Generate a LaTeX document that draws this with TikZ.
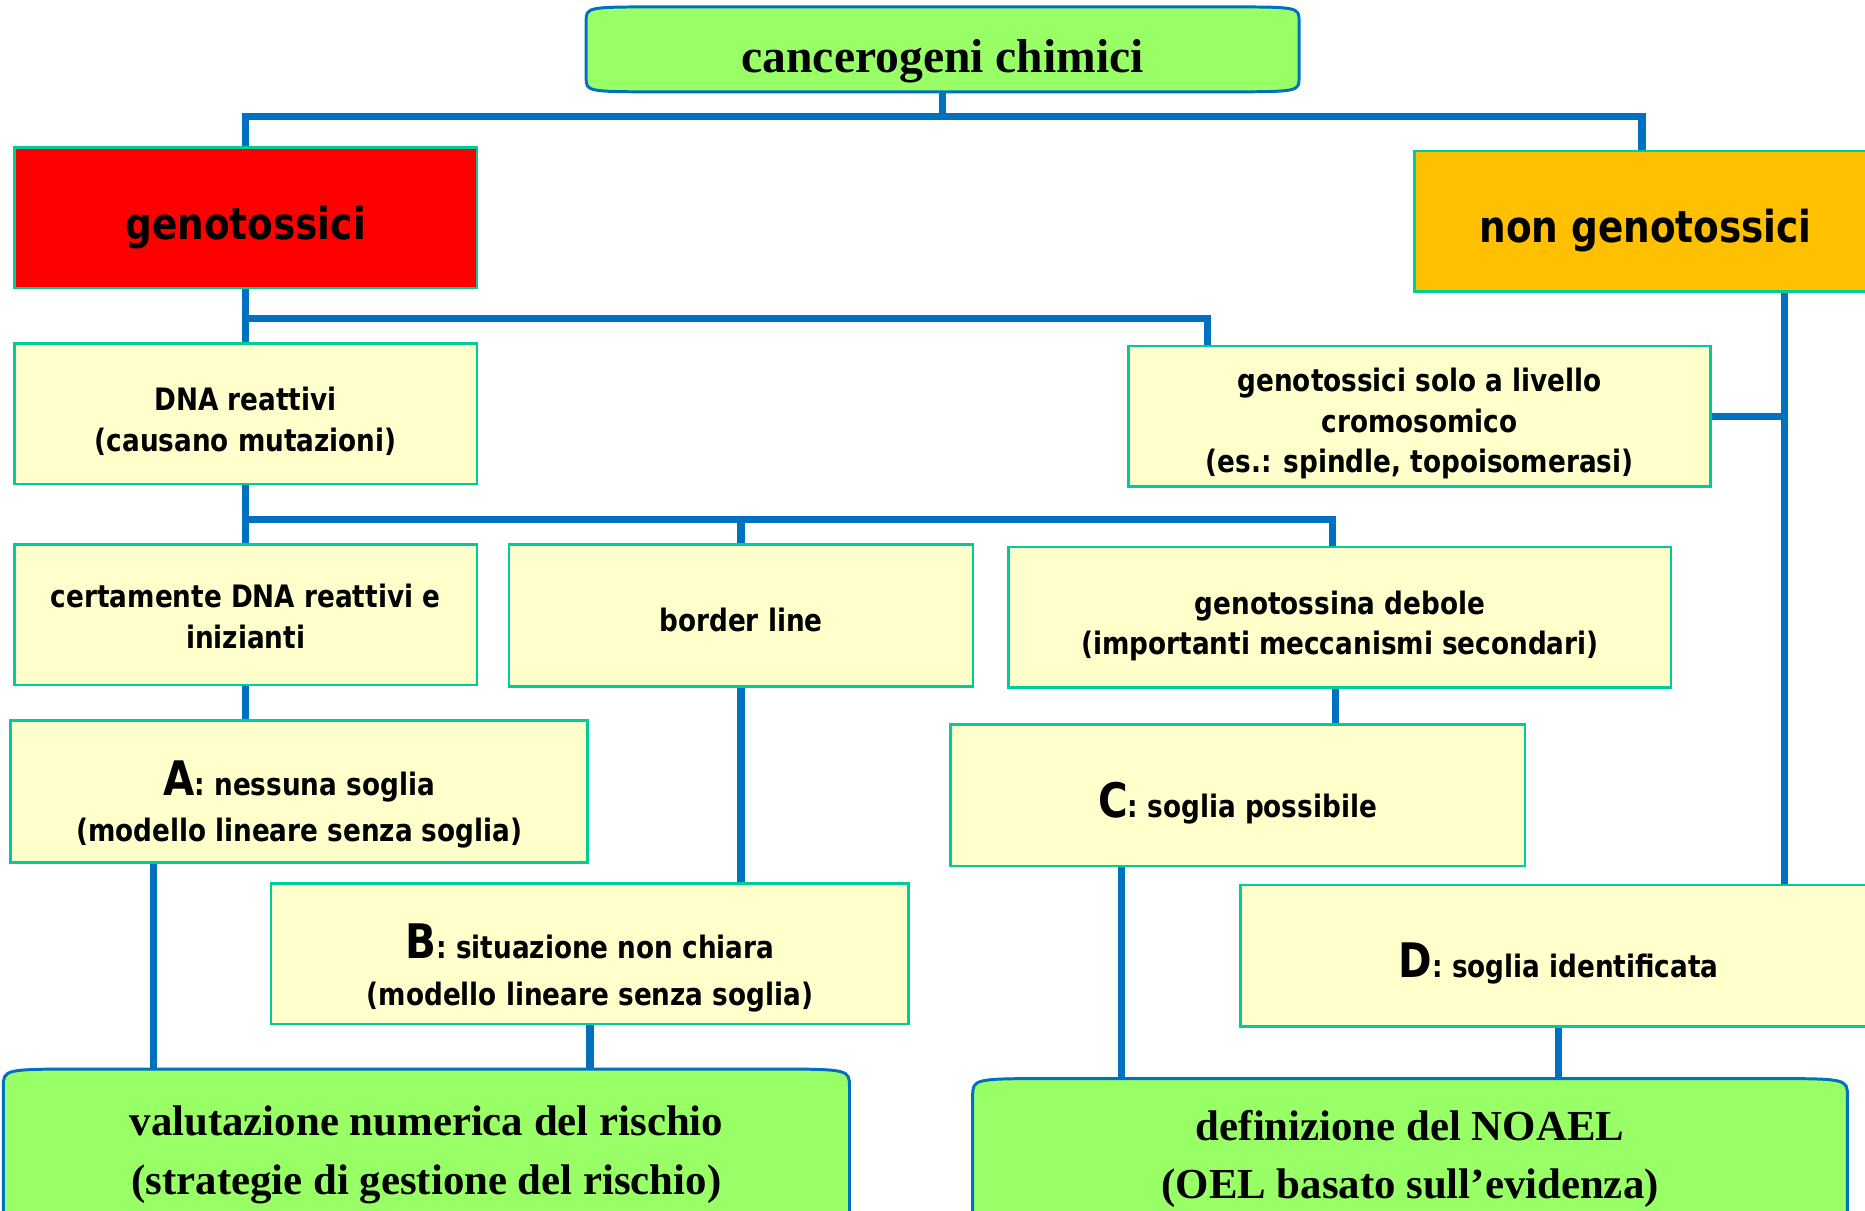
\documentclass[tikz,border=0pt]{standalone}
\usepackage{fontspec}
\setmainfont{Liberation Serif}
\newfontfamily\boxfont{DejaVu Sans}[FakeStretch=0.85]
\usetikzlibrary{calc,backgrounds}
\definecolor{linkblue}{HTML}{0070C0}
\definecolor{boxteal}{HTML}{00CC99}
\definecolor{paleyellow}{HTML}{FFFFCC}
\definecolor{headorange}{HTML}{FFC000}
\definecolor{lightgreen}{HTML}{99FF66}
\tikzset{
  link/.style={draw=linkblue, line width=6pt},
  textdrop/.store in=\textdropheight, textdrop=0pt,
  plainbox/.style={draw=boxteal, line width=2.2pt, fill=paleyellow, align=center,
    inner sep=0pt, textdrop=66pt, execute at begin node={\rule{0pt}{\textdropheight}},
    font=\boxfont\bfseries\fontsize{26}{34}\selectfont},
  headbox/.style={plainbox, textdrop=44pt, font=\boxfont\bfseries\fontsize{37}{44}\selectfont},
  endbox/.style={align=center, inner sep=0pt, textdrop=82pt, execute at begin node={\rule{0pt}{\textdropheight}},
    font=\bfseries\fontsize{36}{49}\selectfont},
  capsule/.style={draw=linkblue, line width=2.5pt, fill=lightgreen}
}
% capsule outline round a node: name, corner width, corner height
\newcommand\capsuleshape[3]{%
  \path[capsule] ($(#1.north west)+(0,#3)$) .. controls (#1.north west) .. ($(#1.north west)+(#2,0)$)
    -- ($(#1.north east)+(-#2,0)$) .. controls (#1.north east) .. ($(#1.north east)+(0,#3)$)
    -- ($(#1.south east)+(0,-#3)$) .. controls (#1.south east) .. ($(#1.south east)+(-#2,0)$)
    -- ($(#1.south west)+(#2,0)$) .. controls (#1.south west) .. ($(#1.south west)+(0,-#3)$) -- cycle;}
\newcommand\bigletter[1]{{\fontsize{40}{40}\selectfont #1}}
\begin{document}
\begin{tikzpicture}[x=1pt,y=-1pt]
\useasboundingbox (0,0) rectangle (1568,1018);

% top and end nodes
\node[endbox, textdrop=47pt, font=\bfseries\fontsize{40}{48}\selectfont, minimum width=599pt, minimum height=71pt] (top) at (792.5,41.5) {cancerogeni chimici};
\node[endbox, minimum width=711pt, minimum height=136pt] (val) at (358.5,967) {valutazione numerica del rischio\\(strategie di gestione del rischio)};
\node[endbox, minimum width=735pt, minimum height=127pt] (def) at (1185.5,970.5) {definizione del NOAEL\\(OEL basato sull’evidenza)};

% classes
\node[headbox, fill=red, minimum width=389pt, minimum height=118pt] (geno) at (206.5,183) {genotossici};
\node[headbox, fill=headorange, minimum width=389pt, minimum height=118pt] (ngeno) at (1383.5,186) {non genotossici};

\node[plainbox, minimum width=389pt, minimum height=118pt] (dna) at (206.5,348) {DNA reattivi\\(causano mutazioni)};
\node[plainbox, textdrop=100pt, minimum width=489pt, minimum height=118pt] (crom) at (1193.5,350) {genotossici solo a livello\\cromosomico\\(es.: spindle, topoisomerasi)};

\node[plainbox, textdrop=56pt, minimum width=389pt, minimum height=118pt] (cert) at (206.5,517) {certamente DNA reattivi e\\inizianti};
\node[plainbox, textdrop=28pt, minimum width=390pt, minimum height=119pt] (bord) at (623,517.5) {border line};
\node[plainbox, textdrop=68pt, minimum width=557pt, minimum height=118pt] (deb) at (1126.5,519) {genotossina debole\\(importanti meccanismi secondari)};

% thresholds
\node[plainbox, textdrop=90pt, minimum width=485pt, minimum height=119pt] (a) at (251.5,665.5) {\bigletter{A}: nessuna soglia\\[5pt](modello lineare senza soglia)};
\node[plainbox, textdrop=43pt, minimum width=483pt, minimum height=119pt] (c) at (1040.5,668.5) {\bigletter{C}: soglia possibile};
\node[plainbox, textdrop=92pt, minimum width=536pt, minimum height=118pt] (b) at (496,802) {\bigletter{B}: situazione non chiara\\[5pt](modello lineare senza soglia)};
\node[plainbox, textdrop=43pt, minimum width=535pt, minimum height=119pt] (d) at (1310.5,803.5) {\bigletter{D}: soglia identificata};

\begin{scope}[on background layer]
\coordinate (bus1) at ($(top.south)+(0,21)$);
\coordinate (bus2) at ($(dna.south)+(0,29)$);
\coordinate (ngdrop) at ([xshift=117pt]ngeno.south);
\draw[link] (top.south) -- (bus1);
\draw[link] (geno.north) |- (bus1) -| ([xshift=-3pt]ngeno.north);
\draw[link] (geno.south) -- (dna.north);
\draw[link] ($(geno.south)!0.55!(dna.north)$) -| ([xshift=-178pt]crom.north);
\draw[link] (ngdrop) -- (ngdrop |- d.north);
\draw[link] (crom.east) -- (crom.east -| ngdrop);
\draw[link] (dna.south) -- (cert.north);
\draw[link] (bus2) -| ([xshift=-6pt]deb.north);
\draw[link] (bord.north) -- (bord.north |- bus2);
\draw[link] (cert.south) -- (cert.south |- a.north);
\draw[link] (bord.south) -- (bord.south |- b.north);
\draw[link] ([xshift=-4pt]deb.south) -- ([xshift=-4pt]deb.south |- c.north);
\draw[link] ([xshift=121pt]a.south west) -- ([xshift=121pt]a.south west |- val.north);
\draw[link] (b.south) -- (b.south |- val.north);
\draw[link] ([xshift=145pt]c.south west) -- ([xshift=145pt]c.south west |- def.north);
\draw[link] (d.south) -- (d.south |- def.north);
\capsuleshape{top}{65}{12}
\capsuleshape{val}{70}{15}
\capsuleshape{def}{70}{15}
\end{scope}
\end{tikzpicture}
\end{document}
